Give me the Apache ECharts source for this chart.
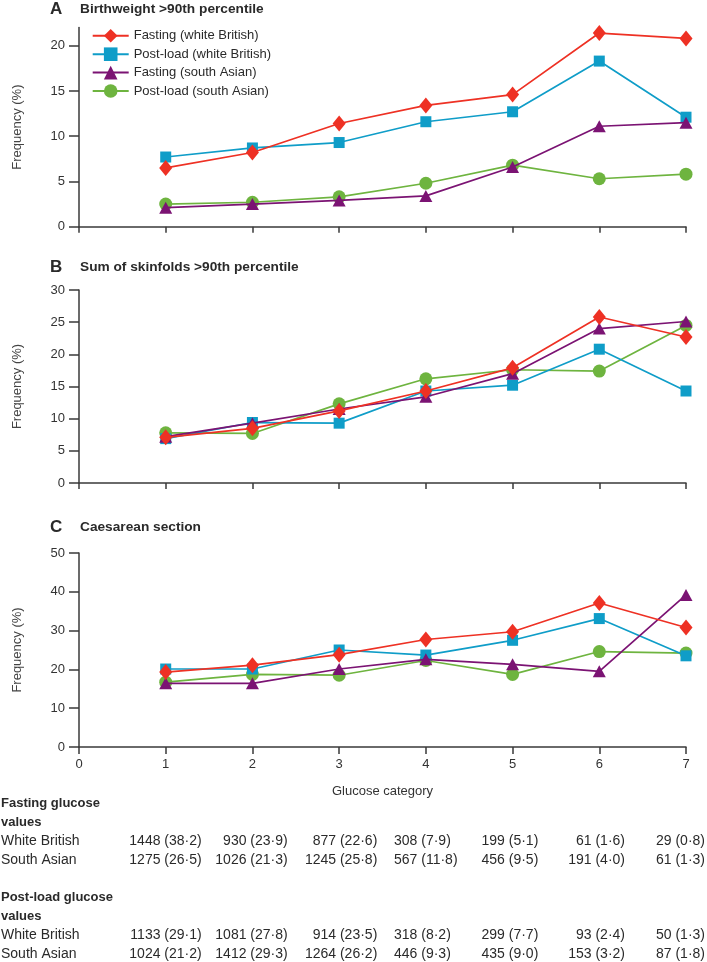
<!DOCTYPE html>
<html>
<head>
<meta charset="utf-8">
<script src="https://cdn.jsdelivr.net/npm/echarts@6/dist/echarts.min.js"></script>
<style>
html,body{margin:0;padding:0;background:#fff;}
#main{width:707px;height:962px;}
</style>
</head>
<body>
<div id="main"></div>
<script>
// ---------------- data ----------------
const categories = [1, 2, 3, 4, 5, 6, 7];
const xTickLabels = ['0', '1', '2', '3', '4', '5', '6', '7'];
const seriesNames = ['Fasting (white British)', 'Post-load (white British)', 'Fasting (south Asian)', 'Post-load (south Asian)'];

const panelTitles = ['Birthweight >90th percentile', 'Sum of skinfolds >90th percentile', 'Caesarean section'];
const panelLetters = ['A', 'B', 'C'];

// Panel A: birthweight >90th percentile (%)
const bwFastingWB  = [6.5, 8.2, 11.4, 13.4, 14.6, 21.4, 20.8];
const bwPostWB     = [7.7, 8.7, 9.3, 11.6, 12.7, 18.3, 12.1];
const bwFastingSA  = [2.1, 2.5, 2.9, 3.4, 6.6, 11.1, 11.5];
const bwPostSA     = [2.5, 2.7, 3.3, 4.8, 6.8, 5.3, 5.8];

// Panel B: sum of skinfolds >90th percentile (%)
const skFastingWB  = [7.1, 8.5, 11.2, 14.3, 17.9, 25.8, 22.7];
const skPostWB     = [6.9, 9.4, 9.3, 14.3, 15.2, 20.8, 14.3];
const skFastingSA  = [7.2, 9.3, 11.5, 13.4, 17.0, 24.0, 25.1];
const skPostSA     = [7.8, 7.7, 12.3, 16.2, 17.6, 17.4, 24.5];

// Panel C: caesarean section (%)
const csFastingWB  = [19.3, 21.1, 23.8, 27.7, 29.7, 37.1, 30.8];
const csPostWB     = [20.1, 20.1, 25.0, 23.7, 27.5, 33.1, 23.5];
const csFastingSA  = [16.4, 16.4, 20.1, 22.6, 21.3, 19.5, 39.2];
const csPostSA     = [16.7, 18.7, 18.5, 22.3, 18.7, 24.6, 24.2];

// y-axis ranges / ticks
const yMaxes = [22, 30, 50];
const yIntervals = [5, 5, 10];
const yTickValues = [[0, 5, 10, 15, 20], [0, 5, 10, 15, 20, 25, 30], [0, 10, 20, 30, 40, 50]];

// table
const tableGroups = ['Fasting glucose\nvalues', 'Post-load glucose\nvalues'];
const tableRowLabels = ['White British', 'South Asian'];
const fastingWB_n = ['1448 (38·2)', '930 (23·9)', '877 (22·6)', '308 (7·9)', '199 (5·1)', '61 (1·6)', '29 (0·8)'];
const fastingSA_n = ['1275 (26·5)', '1026 (21·3)', '1245 (25·8)', '567 (11·8)', '456 (9·5)', '191 (4·0)', '61 (1·3)'];
const postWB_n    = ['1133 (29·1)', '1081 (27·8)', '914 (23·5)', '318 (8·2)', '299 (7·7)', '93 (2·4)', '50 (1·3)'];
const postSA_n    = ['1024 (21·2)', '1412 (29·3)', '1264 (26·2)', '446 (9·3)', '435 (9·0)', '153 (3·2)', '87 (1·8)'];

// ---------------- styling ----------------
const FONT = "'Liberation Sans', Arial, sans-serif";
const colors = ['#ee3124', '#0f9dc8', '#7b1373', '#6eb43f'];
const symbols = ['diamond', 'rect', 'triangle', 'circle'];
const symbolSizes = [[13, 16], 11, [13, 12], 13];
const zs = [5, 3, 4, 2];
const AXIS_COLOR = '#3a3a3a';
const TEXT_COLOR = '#2a2a2a';

const grids = [
  {left: 79, right: 21, top: 27.6, height: 199.1},
  {left: 79, right: 21, top: 290, height: 193},
  {left: 79, right: 21, top: 553, height: 194}
];

const panelData = [
  [bwFastingWB, bwPostWB, bwFastingSA, bwPostSA],
  [skFastingWB, skPostWB, skFastingSA, skPostSA],
  [csFastingWB, csPostWB, csFastingSA, csPostSA]
];

const xAxes = grids.map((g, i) => ({
  type: 'value', gridIndex: i, min: 0, max: 7, interval: 1,
  axisLine: {show: true, lineStyle: {color: AXIS_COLOR, width: 1.5}},
  axisTick: {show: true, length: i === 2 ? 7 : 6, lineStyle: {color: AXIS_COLOR, width: 1.5}},
  axisLabel: {show: i === 2, margin: 11, fontFamily: FONT, fontSize: 13, color: '#333',
    formatter: v => xTickLabels[v] !== undefined ? xTickLabels[v] : ''},
  splitLine: {show: false},
  name: i === 2 ? 'Glucose category' : '',
  nameLocation: 'middle', nameGap: 38,
  nameTextStyle: {fontFamily: FONT, fontSize: 13, color: '#333'}
}));

const yAxes = grids.map((g, i) => ({
  type: 'value', gridIndex: i, min: 0, max: yMaxes[i], interval: yIntervals[i],
  axisLine: {show: true, lineStyle: {color: AXIS_COLOR, width: 1.5}},
  axisTick: {show: true, length: 10, lineStyle: {color: AXIS_COLOR, width: 1.5}, customValues: yTickValues[i]},
  axisLabel: {margin: 14, fontFamily: FONT, fontSize: 13, color: '#333', customValues: yTickValues[i]},
  splitLine: {show: false},
  name: 'Frequency (%)', nameLocation: 'middle', nameGap: 55,
  nameTextStyle: {fontFamily: FONT, fontSize: 13, color: '#444'}
}));

const series = [];
panelData.forEach((arrs, p) => {
  arrs.forEach((vals, s) => {
    series.push({
      type: 'line', name: seriesNames[s], xAxisIndex: p, yAxisIndex: p,
      data: categories.map((c, k) => [c, vals[k]]),
      symbol: symbols[s], symbolSize: symbolSizes[s], showAllSymbol: true,
      z: zs[s],
      itemStyle: {color: colors[s], opacity: 1},
      lineStyle: {color: colors[s], width: 1.7},
      emphasis: {disabled: true},
      animation: false
    });
  });
});

// graphics: panel titles and table
const graphic = [];
const titleY = [8.5, 266.7, 526.7];
panelLetters.forEach((L, i) => {
  graphic.push({type: 'text', x: 50, y: titleY[i] + 0.5, style: {text: L, font: `bold 17px ${FONT}`, fill: TEXT_COLOR, verticalAlign: 'middle'}});
  graphic.push({type: 'text', x: 80, y: titleY[i] + 0.5, style: {text: panelTitles[i], font: `bold 13.7px ${FONT}`, fill: TEXT_COLOR, verticalAlign: 'middle'}});
});

// table layout
const colAnchors = [201.7, 287.7, 377.3, 394, 538.3, 625, 705];
const colAligns = ['right', 'right', 'right', 'left', 'right', 'right', 'right'];
const groupRows = [[fastingWB_n, fastingSA_n], [postWB_n, postSA_n]];
const groupTop = [803, 897.5];
const lineStep = 19;
tableGroups.forEach((gName, gi) => {
  const lines = gName.split('\n');
  lines.forEach((ln, li) => {
    graphic.push({type: 'text', x: 1, y: groupTop[gi] + li * lineStep,
      style: {text: ln, font: `bold 13px ${FONT}`, fill: TEXT_COLOR, verticalAlign: 'middle', align: 'left'}});
  });
  tableRowLabels.forEach((rl, ri) => {
    const y = groupTop[gi] + (2 + ri) * lineStep;
    graphic.push({type: 'text', x: 1, y: y,
      style: {text: rl, font: `14px ${FONT}`, fill: TEXT_COLOR, verticalAlign: 'middle', align: 'left'}});
    groupRows[gi][ri].forEach((txt, ci) => {
      graphic.push({type: 'text', x: colAnchors[ci], y: y,
        style: {text: txt, font: `14px ${FONT}`, fill: TEXT_COLOR, verticalAlign: 'middle', align: colAligns[ci]}});
    });
  });
});

const option = {
  backgroundColor: '#ffffff',
  animation: false,
  grid: grids,
  xAxis: xAxes,
  yAxis: yAxes,
  legend: {
    show: true, orient: 'vertical', left: 91.7, top: 29, padding: 0,
    itemWidth: 36, itemHeight: 17, itemGap: 4.8,
    data: seriesNames,
    textStyle: {fontFamily: FONT, fontSize: 13, color: TEXT_COLOR},
    selectedMode: false
  },
  series: series,
  graphic: graphic
};

const chart = echarts.init(document.getElementById('main'), null, {renderer: 'canvas'});
chart.setOption(option);
</script>
</body>
</html>
